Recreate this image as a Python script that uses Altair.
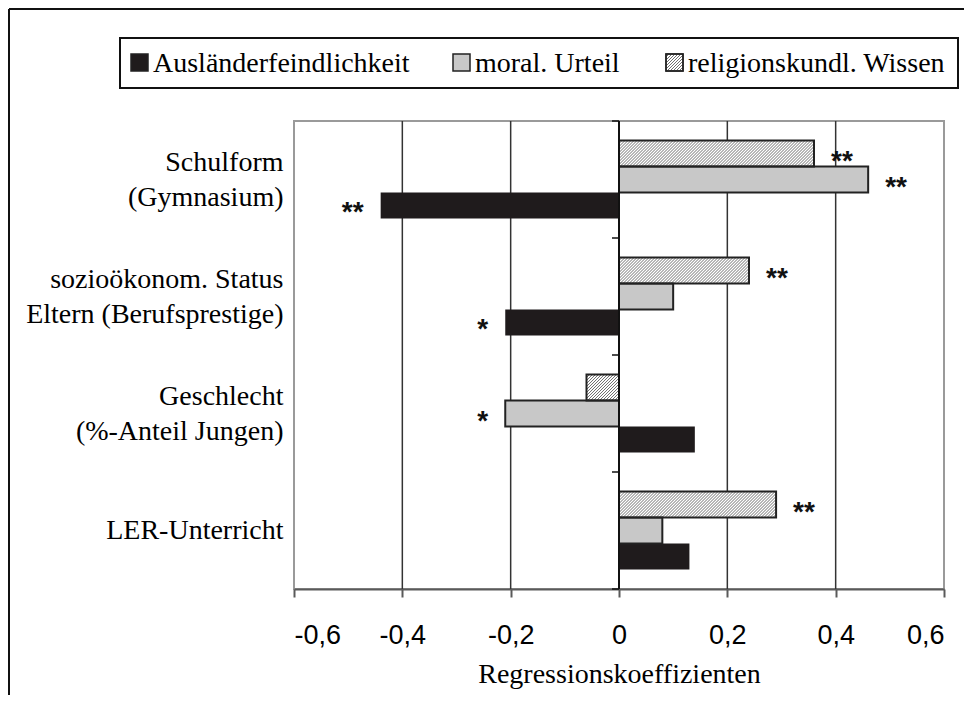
import json
import altair as alt
import pandas as pd

# ---------------- data ----------------
categories = [
    ["Schulform", "(Gymnasium)"],
    ["sozioökonom. Status", "Eltern (Berufsprestige)"],
    ["Geschlecht", "(%-Anteil Jungen)"],
    ["LER-Unterricht"],
]
series = ["religionskundl. Wissen", "moral. Urteil", "Ausländerfeindlichkeit"]
legend_order = ["Ausländerfeindlichkeit", "moral. Urteil", "religionskundl. Wissen"]
wissen = [0.36, 0.24, -0.06, 0.29]
urteil = [0.46, 0.10, -0.21, 0.08]
auslaender = [-0.44, -0.21, 0.14, 0.13]
stars_wissen = ["**", "**", "", "**"]
stars_urteil = ["**", "", "*", ""]
stars_auslaender = ["**", "*", "", ""]
x_ticks = [-0.6, -0.4, -0.2, 0.0, 0.2, 0.4, 0.6]
x_title = "Regressionskoeffizienten"

# ---------------- layout constants ----------------
W, H = 650, 468
BAR_H = 0.222           # bar thickness as a fraction of a category band
PX_X = W / 1.2          # pixels per x-unit
SERIF = "Liberation Serif"
SANS = "Liberation Sans"
LINE_H = 35

values = [wissen, urteil, auslaender]
stars = [stars_wissen, stars_urteil, stars_auslaender]
rows = []
for i in range(len(categories)):
    for k, s in enumerate(series):
        y0 = i + 0.5 - 1.5 * BAR_H + k * BAR_H
        rows.append(dict(cat=i, series=s, value=values[k][i], star=stars[k][i],
                         y0=y0, y1=y0 + BAR_H, ym=y0 + BAR_H / 2))
df = pd.DataFrame(rows)

# hatch lines for the "religionskundl. Wissen" bars (45 degrees)
hx = BAR_H * (H / 4) / PX_X
step = 3.0 / PX_X
hrows = []
for i, v in enumerate(wissen):
    lo, hi = min(0, v), max(0, v)
    ytop = i + 0.5 - 1.5 * BAR_H
    ybot = ytop + BAR_H
    n = int((hi - lo + hx) / step) + 2
    for j in range(n):
        t = lo - hx + j * step
        smin = max(0.0, (lo - t) / hx)
        smax = min(1.0, (hi - t) / hx)
        if smax - smin <= 0.01:
            continue
        hrows.append(dict(xa=t + smin * hx, xb=t + smax * hx,
                          ya=ybot - smin * BAR_H, yb=ybot - smax * BAR_H))
hdf = pd.DataFrame(hrows)

xs = alt.Scale(domain=[-0.6, 0.6], nice=False, zero=False)
ys = alt.Scale(domain=[0, len(categories)], reverse=True, nice=False, zero=False)

label_js = json.dumps(categories, ensure_ascii=False)
offs_js = json.dumps([-(len(c) - 1) * LINE_H / 2 for c in categories])
multi_idx = [i for i, c in enumerate(categories) if len(c) > 1]
y_axis = alt.Axis(values=[i + 0.5 for i in range(len(categories))],
                  labelExpr=f"{label_js}[floor(datum.value)]",
                  labelOffset={"condition": {"test": f"indexof({json.dumps(multi_idx)}, floor(datum.value)) >= 0",
                                             "value": -LINE_H / 2}, "value": 0},
                  domain=False, ticks=False, grid=False, title=None,
                  labelFont=SERIF, labelFontSize=28, labelColor="black",
                  labelLineHeight=LINE_H, labelPadding=11, labelAlign="right", labelLimit=0)
x_axis = alt.Axis(values=x_ticks,
                  labelExpr="datum.value == 0 ? '0' : (datum.value < 0 ? '-' : '') + replace(format(abs(datum.value), '.1f'), '.', ',')",
                  grid=False, domainColor="#5a5a5a", domainWidth=2,
                  tickColor="#5a5a5a", tickWidth=2, tickSize=8,
                  labelFont=SANS, labelFontSize=27, labelColor="black", labelPadding=25,
                  title=x_title, titleFont=SERIF, titleFontSize=28, titleFontWeight="normal",
                  titleColor="black", titlePadding=12)

one = pd.DataFrame({"a": [0]})
layers = []

# grid lines
grid = alt.Chart(pd.DataFrame({"v": [t for t in x_ticks if abs(t) not in (0.0, 0.6)]})).mark_rule(
    color="#333333", strokeWidth=1.5).encode(
    x=alt.X("v:Q", scale=xs, axis=x_axis), y=alt.value(0), y2=alt.value(H))
layers.append(grid)

# bars
bars = alt.Chart(df).mark_rect().encode(
    x=alt.X("value:Q", scale=xs, axis=x_axis),
    x2=alt.datum(0),
    y=alt.Y("y0:Q", scale=ys, axis=y_axis),
    y2="y1:Q",
    fill=alt.Fill("series:N", scale=alt.Scale(domain=series, range=["#ffffff", "#c8c8c8", "#1f1b1c"]), legend=None),
)
layers.append(bars)

# hatching
hatch = alt.Chart(hdf).mark_rule(color="#4a4a4a", strokeWidth=0.8).encode(
    x=alt.X("xa:Q", scale=xs, axis=x_axis), x2="xb:Q",
    y=alt.Y("ya:Q", scale=ys, axis=y_axis), y2="yb:Q")
layers.append(hatch)

# outlines for light bars
outl = alt.Chart(df).transform_filter(f"datum.series != '{series[2]}'").mark_rect(
    filled=False, stroke="#222222", strokeWidth=2).encode(
    x=alt.X("value:Q", scale=xs, axis=x_axis), x2=alt.datum(0),
    y=alt.Y("y0:Q", scale=ys, axis=y_axis), y2="y1:Q")
layers.append(outl)

# zero line and its ticks
zero = alt.Chart(one).mark_rule(color="#111111", strokeWidth=2).encode(
    x=alt.datum(0), y=alt.value(0), y2=alt.value(H))
layers.append(zero)
zticks = alt.Chart(pd.DataFrame({"b": list(range(len(categories) + 1))})).mark_rule(
    color="#111111", strokeWidth=1.5, x2Offset=-7).encode(
    x=alt.datum(0), x2=alt.datum(0), y=alt.Y("b:Q", scale=ys, axis=y_axis))
layers.append(zticks)

# significance stars
pos = alt.Chart(df).transform_filter("datum.star != '' && datum.value > 0").mark_text(
    align="left", baseline="middle", dx=17, dy=8, font=SANS, fontSize=28, fontWeight="bold",
    color="#111111").encode(
    x=alt.X("value:Q", scale=xs, axis=x_axis), y=alt.Y("ym:Q", scale=ys, axis=y_axis), text="star:N")
neg = alt.Chart(df).transform_filter("datum.star != '' && datum.value < 0").mark_text(
    align="right", baseline="middle", dx=-17, dy=8, font=SANS, fontSize=28, fontWeight="bold",
    color="#111111").encode(
    x=alt.X("value:Q", scale=xs, axis=x_axis), y=alt.Y("ym:Q", scale=ys, axis=y_axis), text="star:N")
layers += [pos, neg]

# outer frame (top and left edges)
layers.append(alt.Chart(one).mark_rule(color="#111111", strokeWidth=2).encode(
    x=alt.value(-285), x2=alt.value(670), y=alt.value(-112)))
layers.append(alt.Chart(one).mark_rule(color="#111111", strokeWidth=2).encode(
    x=alt.value(-285), y=alt.value(-112), y2=alt.value(574)))

# legend box
layers.append(alt.Chart(one).mark_rect(fill="white", stroke="#111111", strokeWidth=2).encode(
    x=alt.value(-174), x2=alt.value(664), y=alt.value(-83), y2=alt.value(-33)))
sq_x = [-163, 159, 372]
txt_x = [-141, 181, 394]
sq_fill = {"Ausländerfeindlichkeit": "#1f1b1c", "moral. Urteil": "#c8c8c8", "religionskundl. Wissen": "#ffffff"}
SQ = 17
SQY = -67
for name, sx, tx in zip(legend_order, sq_x, txt_x):
    layers.append(alt.Chart(one).mark_rect(fill=sq_fill[name], stroke="#222222", strokeWidth=1.5).encode(
        x=alt.value(sx), x2=alt.value(sx + SQ), y=alt.value(SQY), y2=alt.value(SQY + SQ)))
    if name == "religionskundl. Wissen":
        t = -SQ
        while t < SQ:
            a = max(0.0, -t)
            b = min(float(SQ), SQ - t)
            if b - a > 0.5:
                layers.append(alt.Chart(one).mark_rule(color="#4a4a4a", strokeWidth=0.8).encode(
                    x=alt.value(sx + t + a), x2=alt.value(sx + t + b),
                    y=alt.value(SQY + SQ - a), y2=alt.value(SQY + SQ - b)))
            t += 3.0
        layers.append(alt.Chart(one).mark_rect(filled=False, stroke="#222222", strokeWidth=1.5).encode(
            x=alt.value(sx), x2=alt.value(sx + SQ), y=alt.value(SQY), y2=alt.value(SQY + SQ)))
    layers.append(alt.Chart(one).mark_text(align="left", baseline="middle", font=SERIF, fontSize=28,
                                           color="black").encode(
        x=alt.value(tx), y=alt.value(-57), text=alt.value(name)))

chart = alt.layer(*layers).properties(width=W, height=H, padding=0).configure_view(
    stroke="#9a9a9a", strokeWidth=2)

chart.save("out.html", embed_options={"renderer": "svg", "actions": False})
